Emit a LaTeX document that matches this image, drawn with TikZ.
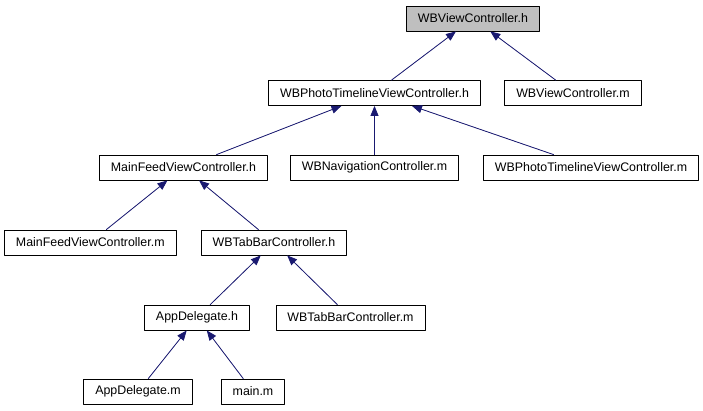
\documentclass[tikz,border=0pt]{standalone}
\usepackage{fontspec}
\setmainfont{Liberation Sans}
\usetikzlibrary{arrows.meta}
\definecolor{edgeblue}{HTML}{191970}
\definecolor{rootgray}{HTML}{BFBFBF}

\begin{document}
\begin{tikzpicture}[x=1pt,y=-1pt,line cap=round,line join=round,
  file/.style={draw=black,line width=0.8pt,fill=white,minimum height=25pt,inner xsep=11.5pt,inner ysep=0pt,font=\fontsize{12.4}{14}\selectfont},
  inc/.style={{Triangle[length=10pt,width=8pt]}-,draw=edgeblue,fill=edgeblue,line width=0.8pt}]
\useasboundingbox (0,0) rectangle (703,411);
\node[file,fill=rootgray] (vch) at (473,18.5) {WBViewController.h};
\node[file] (ptlh) at (374.5,93) {WBPhotoTimelineViewController.h};
\node[file] (vcm) at (573,93) {WBViewController.m};
\node[file] (mfh) at (183.5,167.5) {MainFeedViewController.h};
\node[file] (navm) at (374.5,167.5) {WBNavigationController.m};
\node[file] (ptlm) at (591,167.5) {WBPhotoTimelineViewController.m};
\node[file] (mfm) at (90.3,242.5) {MainFeedViewController.m};
\node[file] (tbh) at (274,242.5) {WBTabBarController.h};
\node[file] (adh) at (197,317.5) {AppDelegate.h};
\node[file] (tbm) at (350.5,317.5) {WBTabBarController.m};
\node[file] (adm) at (138,391.5) {AppDelegate.m};
\node[file] (mainm) at (253,391.5) {main.m};
% includes, arrow at the included file
\draw[inc] (vch) -- (ptlh);
\draw[inc] (vch) -- (vcm);
\draw[inc] (ptlh) -- (mfh);
\draw[inc] (ptlh) -- (navm);
\draw[inc] (ptlh) -- (ptlm);
\draw[inc] (mfh) -- (mfm);
\draw[inc] (mfh) -- (tbh);
\draw[inc] (tbh) -- (adh);
\draw[inc] (tbh) -- (tbm);
\draw[inc] (adh) -- (adm);
\draw[inc] (adh) -- (mainm);
\end{tikzpicture}
\end{document}
